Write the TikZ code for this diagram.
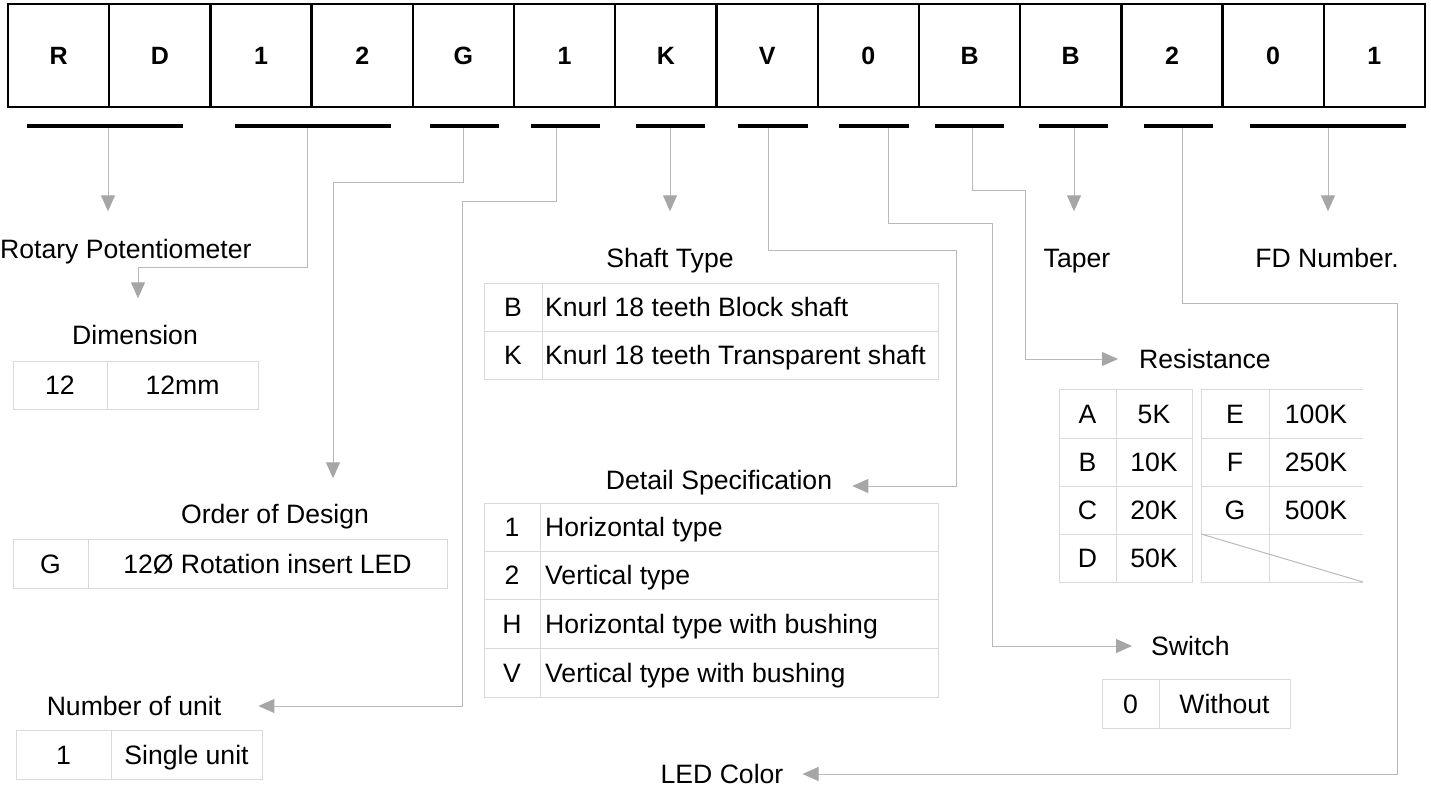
\documentclass[tikz,border=0pt]{standalone}
\usepackage{fontspec}
\setmainfont{Liberation Sans}
\usetikzlibrary{arrows.meta}
\definecolor{linea}{RGB}{185,185,185}
\definecolor{punta}{RGB}{166,166,166}
\definecolor{bordo}{RGB}{217,217,217}
\newcommand{\testo}{\fontsize{26.6}{30}\selectfont}
\tikzset{
    cella/.style={draw, line width=2.4pt, minimum width=101.214pt, minimum height=103pt, inner sep=0pt, outer sep=0pt, font=\fontsize{25}{29}\selectfont\bfseries},
    barra/.style={line width=3.5pt},
    freccia/.style={draw=linea, line width=1pt, -{Triangle[length=16pt,width=14pt,color=punta]}},
    griglia/.style={draw=bordo, line width=1pt},
    voce/.style={inner sep=0pt, text height=19pt, text depth=0pt, font=\testo}
}
\begin{document}
\begin{tikzpicture}[x=1pt,y=-1pt]
        \useasboundingbox (0,0) rectangle (1431,787);
        % Caselle
        \foreach \c [count=\i] in {R,D,1,2,G,1,K,V,0,B,B,2,0,1}
            \node[cella] (c\i) at ({8+101.214*(\i-0.5)},55.5) {\c};
        % Barre
        \foreach \a/\b in {27/183,235/391,430/499,531/600,636/705,738/808,839/909,935/1004,1039/1108,1144/1213,1250/1406}
            \draw[barra] (\a,126) -- (\b,126);
        \foreach \x [count=\i] in {108,307,463,556,670,768,888,972,1074,1182,1328}
            \coordinate (b\i) at (\x,128);
        % Etichette
        \node[voce, anchor=west] (rotary) at (0,249) {Rotary Potentiometer};
        \node[voce] (dimension) at (135,335) {Dimension};
        \node[voce] (order) at (275,514) {Order of Design};
        \node[voce] (unit) at (134,706) {Number of unit};
        \node[voce] (shaft) at (670,258) {Shaft Type};
        \node[voce] (detail) at (719,480) {Detail Specification};
        \node[voce] (taper) at (1077,258) {Taper};
        \node[voce] (fd) at (1327,258) {FD Number.};
        \node[voce, anchor=west] (resistance) at (1139,359) {Resistance};
        \node[voce, anchor=west] (switch) at (1151,646) {Switch};
        \node[voce] (led) at (722,774) {LED Color};
        % Tabelle
        \draw[griglia] (13,361) rectangle (258,409) (107,361) -- (107,409);
        \node[voce] (dim-k) at (60,385) {12};
        \node[voce] (dim-v) at (182.5,385) {12mm};
        \draw[griglia] (13,539) rectangle (447,588) (88,539) -- (88,588);
        \node[voce] (ord-k) at (50.5,563.5) {G};
        \node[voce] (ord-v) at (267.5,563.5) {12Ø Rotation insert LED};
        \draw[griglia] (16,730) rectangle (262,779) (111,730) -- (111,779);
        \node[voce] (uni-k) at (63.5,754.5) {1};
        \node[voce] (uni-v) at (186.5,754.5) {Single unit};
        \draw[griglia] (484,283) rectangle (938,379) (542,283) -- (542,379) (484,331) -- (938,331);
        \node[voce] (sh-k1) at (513,307) {B};
        \node[voce, anchor=west] (sh-v1) at (545,307) {Knurl 18 teeth Block shaft};
        \node[voce] (sh-k2) at (513,355) {K};
        \node[voce, anchor=west] (sh-v2) at (545,355) {Knurl 18 teeth Transparent shaft};
        \draw[griglia] (484,503) rectangle (938,697) (540,503) -- (540,697);
        \foreach \y in {551,599,648}
            \draw[griglia] (484,\y) -- (938,\y);
        \foreach \k/\v/\y [count=\i] in {1/Horizontal type/527,2/Vertical type/575,H/Horizontal type with bushing/623.5,V/Vertical type with bushing/672.5}{
            \node[voce] (de-k\i) at (512,\y) {\k};
            \node[voce, anchor=west] (de-v\i) at (545,\y) {\v};
        }
        \draw[griglia] (1059,389) rectangle (1192,582) (1116,389) -- (1116,582);
        \draw[griglia] (1201,582) -- (1201,389) -- (1363,389) (1201,582) -- (1363,582) (1269,389) -- (1269,582);
        \foreach \y in {438,486,534}
            \draw[griglia] (1059,\y) -- (1192,\y) (1201,\y) -- (1363,\y);
        \draw[draw=linea, line width=1pt] (1201,534) -- (1363,582);
        \foreach \k/\v/\y [count=\i] in {A/5K/413.5,B/10K/462,C/20K/510,D/50K/558}{
            \node[voce] (re-k\i) at (1087.5,\y) {\k};
            \node[voce] (re-v\i) at (1154,\y) {\v};
        }
        \foreach \k/\v/\y [count=\i] in {E/100K/413.5,F/250K/462,G/500K/510}{
            \node[voce] (rf-k\i) at (1235,\y) {\k};
            \node[voce] (rf-v\i) at (1316,\y) {\v};
        }
        \draw[griglia] (1102,679) rectangle (1290,728) (1159,679) -- (1159,728);
        \node[voce] (sw-k) at (1130.5,703.5) {0};
        \node[voce] (sw-v) at (1224.5,703.5) {Without};
        % Collegamenti
        \coordinate (g2) at (138,267);
        \coordinate (g3) at (333,182);
        \coordinate (g4) at (462,201);
        \coordinate (g6) at (956,250);
        \coordinate (g6b) at (956,486);
        \coordinate (g7) at (992,223);
        \coordinate (g8) at (1025,190);
        \coordinate (g10) at (1397,303);
        \draw[freccia, shorten >=28pt] (b1) -- (b1 |- rotary.north);
        \draw[freccia, shorten >=27pt] (b2) |- (g2) -- (g2 |- dimension.north);
        \draw[freccia, shorten >=26pt] (b3) |- (g3) -- (g3 |- order.north);
        \draw[freccia, shorten >=37pt] (b4) |- (g4) |- (unit.east);
        \draw[freccia, shorten >=37pt] (b5) -- (b5 |- shaft.north);
        \draw[freccia, shorten >=20pt] (b6) |- (g6) -- (g6b) -- (g6b -| detail.east);
        \draw[freccia, shorten >=19pt] (b7) |- (g7) |- (switch.west);
        \draw[freccia, shorten >=21pt] (b8) |- (g8) |- (resistance.west);
        \draw[freccia, shorten >=37pt] (b9) -- (b9 |- taper.north);
        \draw[freccia, shorten >=19pt] (b10) |- (g10) |- (led.east);
        \draw[freccia, shorten >=37pt] (b11) -- (b11 |- fd.north);
\end{tikzpicture}
\end{document}
